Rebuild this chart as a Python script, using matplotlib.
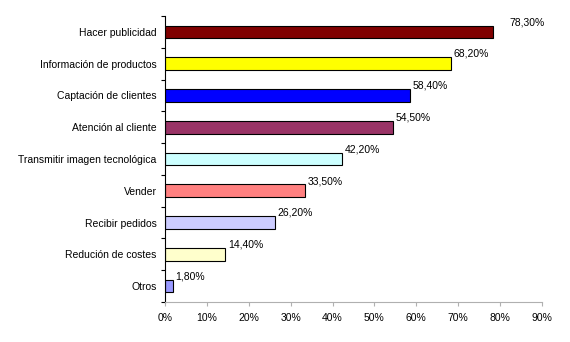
import matplotlib
matplotlib.use("Agg")
import matplotlib.pyplot as plt
from matplotlib.ticker import FixedLocator, NullFormatter

plt.rcParams["font.family"] = ["Liberation Sans", "DejaVu Sans"]

categories = [
    "Hacer publicidad",
    "Información de productos",
    "Captación de clientes",
    "Atención al cliente",
    "Transmitir imagen tecnológica",
    "Vender",
    "Recibir pedidos",
    "Redución de costes",
    "Otros",
]
values = [78.3, 68.2, 58.4, 54.5, 42.2, 33.5, 26.2, 14.4, 1.8]
labels = ["78,30%", "68,20%", "58,40%", "54,50%", "42,20%", "33,50%", "26,20%", "14,40%", "1,80%"]
colors = ["#800000", "#FFFF00", "#0000FF", "#993366", "#CCFFFF",
          "#FF8080", "#CCCCFF", "#FFFFCC", "#9999FF"]
xticks = [0, 10, 20, 30, 40, 50, 60, 70, 80, 90]

fs = 7.5
fig = plt.figure(figsize=(5.7, 3.42), dpi=100)
ax = fig.add_axes([165 / 570, 1 - 302 / 342, (542 - 165) / 570, (302 - 16) / 342])

n = len(categories)
ypos = [n - 1 - i for i in range(n)]
ax.barh(ypos, values, height=0.4, color=colors, edgecolor="black", linewidth=0.8)

for i, (y, v, lab) in enumerate(zip(ypos, values, labels)):
    dx = 12 if i == 0 else 2
    ax.annotate(lab, (v, y), xytext=(dx, 7), textcoords="offset points",
                ha="left", va="center", fontsize=fs)

ax.set_xlim(0, 90)
ax.set_ylim(-0.5, n - 0.5)
ax.set_xticks(xticks)
ax.set_xticklabels([f"{t}%" for t in xticks], fontsize=fs)

ax.yaxis.set_major_locator(FixedLocator([y - 0.5 for y in range(n + 1)]))
ax.yaxis.set_major_formatter(NullFormatter())
ax.yaxis.set_minor_locator(FixedLocator(ypos))
ax.set_yticklabels(categories, minor=True, fontsize=fs)
ax.tick_params(axis="y", which="major", length=3, color="black", width=0.8)
ax.tick_params(axis="y", which="minor", length=0, pad=6)
ax.tick_params(axis="x", length=3, color="#b0b0b0", width=0.8, pad=5)

for s in ["top", "right"]:
    ax.spines[s].set_visible(False)
ax.spines["left"].set_color("black")
ax.spines["left"].set_linewidth(0.8)
ax.spines["bottom"].set_color("#b0b0b0")
ax.spines["bottom"].set_linewidth(0.8)

fig.savefig("out.png", dpi=100)
